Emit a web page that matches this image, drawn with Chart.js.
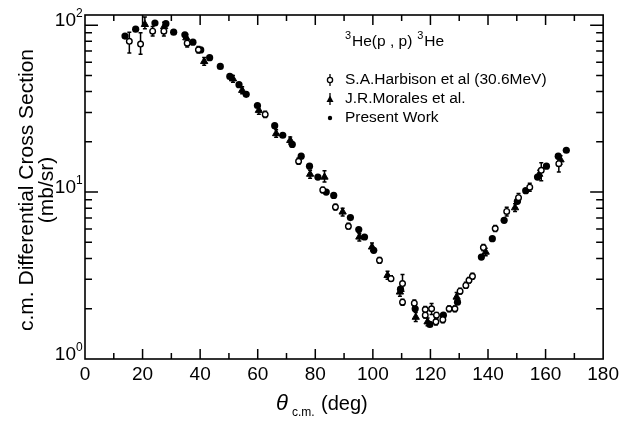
<!DOCTYPE html>
<html>
<head>
<meta charset="utf-8">
<script src="https://cdn.jsdelivr.net/npm/chart.js@4/dist/chart.umd.min.js"></script>
<style>
  body { margin: 0; background: #fff; }
</style>
</head>
<body>
<canvas id="xsection" width="623" height="423"></canvas>
<script>
// Present Work (filled dots)
var presentAngle = [13.9, 17.6, 24.3, 28.1, 30.8, 34.7, 37.5, 40.2, 43.3, 47.0, 50.3, 53.5, 56.0, 59.9,
  65.9, 68.7, 72.0, 75.1, 78.0, 80.9, 83.8, 86.4, 92.2, 95.1, 97.1, 100.3, 109.6, 114.7, 119.8,
  124.5, 129.4, 137.7, 141.5, 145.6, 150.2, 153.1, 157.2, 160.3, 164.4, 167.2];
var presentValue = [86, 94.6, 103, 102, 90.8, 87.6, 79, 71, 63.8, 56.6, 49.3, 44, 38.5, 33,
  25, 21.9, 19.3, 16.4, 14.3, 12.3, 10.0, 9.55, 7.03, 5.96, 5.38, 4.48, 2.62, 2.0, 1.61,
  1.83, 2.19, 4.08, 5.26, 6.77, 8.8, 10.2, 12.3, 14.3, 16.4, 17.8];

// J.R. Morales et al. (filled triangles)
var moralesAngle = [20.8, 27.5, 35.2, 41.4, 51.4, 54.6, 60.4, 66.4, 71.3, 78.2, 83.2, 89.5, 95.3,
  99.7, 105.1, 109.4, 114.9, 119.0, 129.1, 139.2, 149.4, 157.8, 165.2];
var moralesValue = [101, 98, 84, 60.6, 47.7, 40.7, 30.9, 22.4, 20.4, 12.8, 12.3, 7.6, 5.38,
  4.69, 3.17, 2.52, 1.78, 1.67, 2.35, 4.37, 8.06, 12.8, 15.6];
var moralesLow = [95, 93, 80, 57.5, 45.5, 38.8, 29.3, 21.3, 19.4, 12.1, 11.5, 7.2, 5.1,
  4.45, 3.0, 2.38, 1.68, 1.58, 2.2, 4.15, 7.65, 12.1, 14.7];
var moralesHigh = [112, 104, 88, 64, 50, 42.8, 32.5, 23.6, 21.4, 13.5, 13.4, 8.0, 5.65,
  4.95, 3.35, 2.66, 1.9, 1.76, 2.5, 4.6, 8.5, 13.5, 16.5];

// S.A. Harbison et al. 30.6 MeV (open circles)
var harbAngle = [15.4, 19.3, 23.5, 27.4, 35.5, 39.4, 62.6, 74.2, 82.6, 87.0, 91.5, 102.3, 106.3,
  110.3, 110.3, 114.4, 118.2, 118.2, 120.4, 122.1, 121.9, 124.3, 126.5, 128.5, 130.3, 132.3,
  133.4, 134.6, 138.4, 142.5, 146.5, 150.6, 154.5, 158.5, 164.6];
var harbValue = [80, 77, 92, 92, 78, 71.2, 29.2, 15.3, 10.3, 8.13, 6.23, 3.9, 3.03,
  2.83, 2.19, 2.16, 1.98, 1.83, 2.0, 1.83, 1.67, 1.72, 2.0, 2.0, 2.55, 2.76,
  2.96, 3.13, 4.65, 6.04, 7.66, 9.26, 10.7, 13.5, 14.8];
var harbLow = [68, 67, 86, 86, 74, 68, 28, 14.7, 9.9, 7.8, 6.0, 3.75, 2.92,
  2.55, 2.1, 2.06, 1.9, 1.76, 1.85, 1.76, 1.6, 1.65, 1.92, 1.92, 2.45, 2.65,
  2.85, 3.0, 4.45, 5.8, 7.2, 8.7, 10.1, 11.7, 13.2];
var harbHigh = [90.6, 90, 98, 98, 82, 74.5, 30.5, 16, 10.7, 8.45, 6.5, 4.05, 3.15,
  3.21, 2.28, 2.26, 2.06, 1.9, 2.15, 1.9, 1.74, 1.79, 2.08, 2.08, 2.65, 2.88,
  3.08, 3.26, 4.85, 6.3, 8.1, 9.8, 11.3, 15.0, 15.8];

var xTickValues = [0, 20, 40, 60, 80, 100, 120, 140, 160, 180];
var yDecades = [1, 10, 100];
var yDecadeExp = ['0', '1', '2'];

function toPoints(xs, ys) {
  return xs.map(function (x, i) { return { x: x, y: ys[i] }; });
}

var font = '"Liberation Sans", Arial, sans-serif';

var paperPlugin = {
  id: 'paper',
  beforeDatasetsDraw: function (chart) {
    // error bars
    var ctx = chart.ctx, xs = chart.scales.x, ys = chart.scales.y, a = chart.chartArea;
    ctx.save();
    ctx.beginPath();
    ctx.rect(a.left, a.top, a.right - a.left, a.bottom - a.top);
    ctx.clip();
    ctx.strokeStyle = '#000';
    ctx.lineWidth = 1.5;
    function bars(angles, lo, hi, cap) {
      angles.forEach(function (t, i) {
        var px = xs.getPixelForValue(t);
        var y1 = ys.getPixelForValue(lo[i]), y2 = ys.getPixelForValue(hi[i]);
        ctx.beginPath();
        ctx.moveTo(px, y1); ctx.lineTo(px, y2);
        ctx.moveTo(px - cap, y1); ctx.lineTo(px + cap, y1);
        ctx.moveTo(px - cap, y2); ctx.lineTo(px + cap, y2);
        ctx.stroke();
      });
    }
    bars(harbAngle, harbLow, harbHigh, 2);
    bars(moralesAngle, moralesLow, moralesHigh, 2);
    ctx.restore();
  },
  afterDraw: function (chart) {
    var ctx = chart.ctx, xs = chart.scales.x, ys = chart.scales.y, a = chart.chartArea;
    ctx.save();
    ctx.strokeStyle = '#000';
    ctx.fillStyle = '#000';
    ctx.lineWidth = 1.6;
    ctx.strokeRect(a.left, a.top, a.right - a.left, a.bottom - a.top);

    // inward ticks, x
    ctx.lineWidth = 1.5;
    for (var t = 10; t < 180; t += 10) {
      var px = xs.getPixelForValue(t);
      var len = t % 20 === 0 ? 10 : 6;
      ctx.beginPath();
      ctx.moveTo(px, a.bottom); ctx.lineTo(px, a.bottom - len);
      ctx.moveTo(px, a.top); ctx.lineTo(px, a.top + len);
      ctx.stroke();
    }
    // inward ticks, y (log)
    yDecades.forEach(function (d) {
      for (var m = 1; m <= 9; m++) {
        var v = m * d;
        if (v <= ys.min || v > ys.max) continue;
        var py = ys.getPixelForValue(v);
        var len = m === 1 ? 13 : 7;
        ctx.beginPath();
        ctx.moveTo(a.left, py); ctx.lineTo(a.left + len, py);
        ctx.moveTo(a.right, py); ctx.lineTo(a.right - len, py);
        ctx.stroke();
      }
    });

    // y tick labels 10^n
    yDecades.forEach(function (d, i) {
      var py = ys.getPixelForValue(d);
      ctx.textBaseline = 'middle';
      ctx.font = '12px ' + font;
      ctx.textAlign = 'left';
      ctx.fillText(yDecadeExp[i], a.left - 9, py - 11);
      ctx.font = '19px ' + font;
      ctx.textAlign = 'right';
      ctx.fillText('10', a.left - 9, py - 4);
    });

    // y title
    ctx.save();
    ctx.translate(27, 190);
    ctx.rotate(-Math.PI / 2);
    ctx.textAlign = 'center';
    ctx.textBaseline = 'middle';
    ctx.font = '21px ' + font;
    ctx.fillText('c.m. Differential Cross Section', 0, 0);
    ctx.fillText('(mb/sr)', 0, 20);
    ctx.restore();

    // x title
    ctx.textBaseline = 'middle';
    ctx.textAlign = 'left';
    ctx.font = 'italic 22px ' + font;
    ctx.fillText('θ', 276, 404);
    ctx.font = '12px ' + font;
    ctx.fillText('c.m.', 292, 413);
    ctx.font = '20px ' + font;
    ctx.fillText('(deg)', 321, 404);

    // legend block
    var lx = 345;
    ctx.font = '11px ' + font;
    ctx.fillText('3', lx, 36);
    ctx.font = '15.5px ' + font;
    ctx.fillText('He(p , p)', lx + 7, 42);
    var hw = ctx.measureText('He(p , p)').width;
    ctx.font = '11px ' + font;
    ctx.fillText('3', lx + 12 + hw, 36);
    ctx.font = '15.5px ' + font;
    ctx.fillText('He', lx + 19 + hw, 42);

    ctx.fillText('S.A.Harbison et al (30.6MeV)', lx, 80);
    ctx.fillText('J.R.Morales et al.', lx, 99);
    ctx.fillText('Present Work', lx, 118);

    var sx = 330;
    ctx.lineWidth = 1.3;
    // open circle with bar
    ctx.beginPath(); ctx.moveTo(sx, 74); ctx.lineTo(sx, 86); ctx.stroke();
    ctx.beginPath(); ctx.arc(sx, 80, 2.6, 0, Math.PI * 2);
    ctx.fillStyle = '#fff'; ctx.fill(); ctx.stroke();
    ctx.fillStyle = '#000';
    // triangle with bar
    ctx.beginPath(); ctx.moveTo(sx, 93); ctx.lineTo(sx, 105); ctx.stroke();
    ctx.beginPath(); ctx.moveTo(sx, 95.5); ctx.lineTo(sx + 3.5, 102); ctx.lineTo(sx - 3.5, 102);
    ctx.closePath(); ctx.fill();
    // dot
    ctx.beginPath(); ctx.arc(sx, 118, 2.2, 0, Math.PI * 2); ctx.fill();
    ctx.restore();
  }
};

var ctx = document.getElementById('xsection');
var myChart = new Chart(ctx, {
  type: 'scatter',
  data: {
    datasets: [{
      label: 'S.A.Harbison et al (30.6MeV)',
      data: toPoints(harbAngle, harbValue),
      pointStyle: 'circle',
      pointRadius: 2.8,
      pointBorderWidth: 1.4,
      pointBackgroundColor: '#fff',
      pointBorderColor: '#000'
    }, {
      label: 'J.R.Morales et al.',
      data: toPoints(moralesAngle, moralesValue),
      pointStyle: 'triangle',
      pointRadius: 4.2,
      pointBorderWidth: 1,
      pointBackgroundColor: '#000',
      pointBorderColor: '#000'
    }, {
      label: 'Present Work',
      data: toPoints(presentAngle, presentValue),
      pointStyle: 'circle',
      pointRadius: 3.6,
      pointBorderWidth: 0,
      pointBackgroundColor: '#000',
      pointBorderColor: '#000'
    }]
  },
  options: {
    responsive: false,
    animation: false,
    layout: { padding: { top: 15, right: 19, left: 0, bottom: 0 } },
    plugins: {
      legend: { display: false },
      tooltip: { enabled: false }
    },
    scales: {
      x: {
        type: 'linear',
        min: 0,
        max: 180,
        grid: { display: false, drawTicks: false },
        border: { display: false },
        afterBuildTicks: function (scale) {
          scale.ticks = xTickValues.map(function (v) { return { value: v }; });
        },
        afterFit: function (scale) { scale.height = 64; },
        ticks: {
          color: '#000',
          padding: 4,
          maxRotation: 0,
          font: { family: font, size: 19 }
        }
      },
      y: {
        type: 'logarithmic',
        min: 1,
        max: 115,
        grid: { display: false, drawTicks: false },
        border: { display: false },
        afterFit: function (scale) { scale.width = 85; },
        ticks: { display: false }
      }
    }
  },
  plugins: [paperPlugin]
});
</script>
</body>
</html>
